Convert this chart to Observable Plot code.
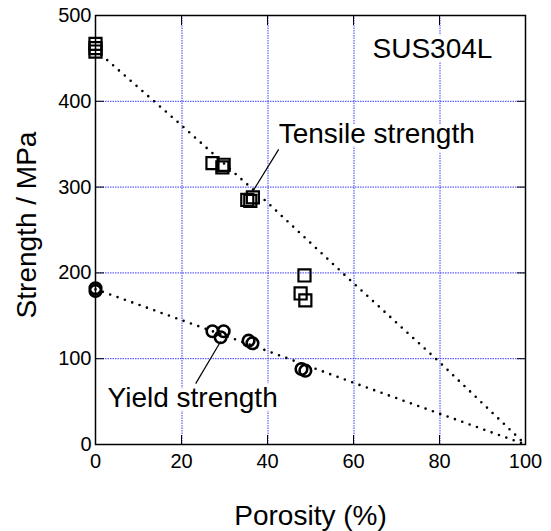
<!DOCTYPE html>
<html><head><meta charset="utf-8">
<script src="https://cdn.jsdelivr.net/npm/d3@7"></script>
<script src="https://cdn.jsdelivr.net/npm/@observablehq/plot@0.6"></script>
<style>body{margin:0;background:#fff}</style>
</head><body><div id="chart"></div>
<script>
// Axis ticks
const xTicks = [0, 20, 40, 60, 80, 100];
const yTicks = [0, 100, 200, 300, 400, 500];
const xGrid = [20, 40, 60, 80];
const yGrid = [100, 200, 300, 400];

// Measured points (porosity %, strength MPa)
const tensileP = [0, 0, 0, 27.2, 29.5, 29.8, 35.3, 36.0, 36.6, 47.7, 48.6, 48.8];
const tensileS = [467, 462, 458, 328, 323, 326, 285, 284, 288, 176, 197, 168];
const yieldP = [0, 0, 27.2, 29.1, 29.8, 35.6, 36.5, 47.9, 48.8];
const yieldS = [182, 179, 132, 125, 132, 121, 118, 88, 86];

// Dotted model lines
const fitP = [0, 20, 40, 60, 80, 100];
const tensileFit = [460, 372, 282, 188, 96, 0];
const yieldFit = [181, 145, 109, 72, 36, 0];

// Annotations
const noteText = ["Tensile strength", "Yield strength"];
const noteX = [42.6, 2.8];
const noteY = [362, 54];
const leaderX1 = [42.6, 23.3], leaderY1 = [344, 71];
const leaderX2 = [36.7, 29.1], leaderY2 = [296, 120];
const materialText = ["SUS304L"];
const materialX = [92.3], materialY = [461];

const xLabel = "Porosity (%)";
const yLabel = "Strength / MPa";

const tensile = tensileP.map((p, i) => ({p, s: tensileS[i]}));
const yieldPts = yieldP.map((p, i) => ({p, s: yieldS[i]}));
const tFit = fitP.map((p, i) => ({p, s: tensileFit[i]}));
const yFit = fitP.map((p, i) => ({p, s: yieldFit[i]}));
const notes = noteText.map((t, i) => ({t, x: noteX[i], y: noteY[i]}));
const leaders = leaderX1.map((x1, i) => ({x1, y1: leaderY1[i], x2: leaderX2[i], y2: leaderY2[i]}));
const mat = materialText.map((t, i) => ({t, x: materialX[i], y: materialY[i]}));

const gridStyle = {stroke: "#3c3cff", strokeOpacity: 1, strokeWidth: 1, strokeDasharray: "1.5,1"};
const dotted = {x: "p", y: "s", stroke: "black", strokeWidth: 2.6, strokeDasharray: "0,7.8", strokeLinecap: "round"};

const chart = Plot.plot({
  width: 551, height: 531,
  marginLeft: 95, marginRight: 26, marginTop: 15, marginBottom: 87,
  style: {fontFamily: "'Liberation Sans', Arial, sans-serif", background: "white", color: "black"},
  x: {domain: [0, 100]},
  y: {domain: [0, 500]},
  marks: [
    Plot.ruleX(xGrid, {x: d => d, dx: 0.5, ...gridStyle}),
    Plot.ruleY(yGrid, {y: d => d, ...gridStyle}),
    Plot.text(notes, {x: "x", y: "y", text: "t", textAnchor: "start", fontSize: 28, fill: "black", stroke: "white", strokeWidth: 8}),
    Plot.text(mat, {x: "x", y: "y", text: "t", textAnchor: "end", fontSize: 28, fill: "black", stroke: "white", strokeWidth: 8}),
    Plot.axisX(xTicks, {anchor: "bottom", tickSize: -9, text: null, label: null}),
    Plot.axisX(xTicks, {anchor: "top", tickSize: -9, text: null, label: null}),
    Plot.axisY(yTicks, {anchor: "left", tickSize: -9, text: null, label: null}),
    Plot.axisY(yTicks, {anchor: "right", tickSize: -9, text: null, label: null}),
    Plot.axisX(xTicks, {anchor: "bottom", tickSize: 0, tickPadding: 9, fontSize: 20, label: null}),
    Plot.axisY(yTicks, {anchor: "left", tickSize: 0, tickPadding: 4, fontSize: 20, label: null}),
    Plot.frame({stroke: "black", strokeWidth: 1.5}),
    Plot.line(tFit, dotted),
    Plot.line(yFit, dotted),
    Plot.link(leaders, {x1: "x1", y1: "y1", x2: "x2", y2: "y2", stroke: "black", strokeWidth: 1.2}),
    Plot.dot(tensile, {x: "p", y: "s", symbol: "square", r: 6.8, stroke: "black", strokeWidth: 2.2, fill: "none"}),
    Plot.dot(yieldPts, {x: "p", y: "s", symbol: "circle", r: 5.8, stroke: "black", strokeWidth: 2.6, fill: "none"}),
    Plot.text([yLabel], {text: d => d, frameAnchor: "left", textAnchor: "middle", lineAnchor: "middle", rotate: -90, dx: -68, dy: -5, fontSize: 28, fill: "black"}),
    Plot.text([xLabel], {text: d => d, frameAnchor: "bottom", textAnchor: "middle", lineAnchor: "middle", dy: 72, fontSize: 28, fill: "black"})
  ]
});
document.getElementById("chart").appendChild(chart);
</script>
</body></html>
